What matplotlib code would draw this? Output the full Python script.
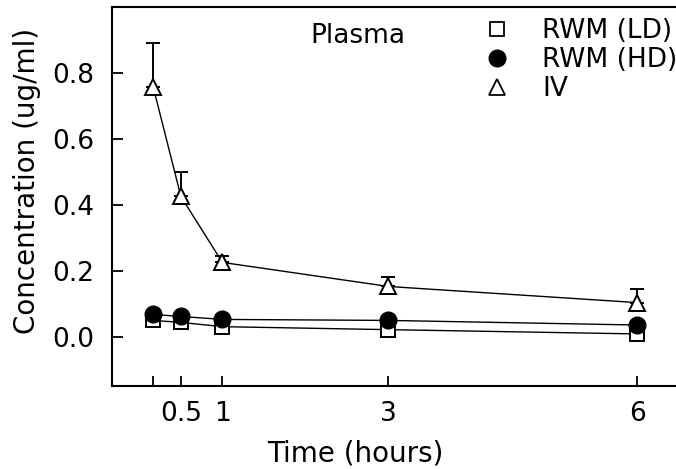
import matplotlib
matplotlib.use("Agg")
import matplotlib.pyplot as plt
from matplotlib.lines import Line2D

# sampling times (hours)
time_h = [1 / 6, 0.5, 1, 3, 6]

# plasma concentration (ug/ml)
rwm_ld = [0.049, 0.043, 0.030, 0.021, 0.008]
rwm_hd = [0.067, 0.061, 0.052, 0.049, 0.035]
iv = [0.757, 0.425, 0.225, 0.152, 0.103]
iv_err = [0.133, 0.075, 0.020, 0.030, 0.040]

xtick_pos = [1 / 6, 0.5, 1, 3, 6]
xtick_lbl = ["", "0.5", "1", "3", "6"]
ytick_pos = [0.0, 0.2, 0.4, 0.6, 0.8]

plt.rcParams["font.family"] = ["DejaVu Sans"]
plt.rcParams["font.size"] = 19

W, H = 676, 469
fig = plt.figure(figsize=(W / 100, H / 100), dpi=100)
ax = fig.add_axes([112 / W, (H - 386) / H, (679 - 112) / W, 379 / H])

# connecting lines
for ys in (rwm_ld, rwm_hd, iv):
    ax.plot(time_h, ys, color="black", lw=1.0, zorder=2)

# upward-only error bars for IV
ax.errorbar(time_h, iv, yerr=[[0] * len(iv), iv_err], fmt="none",
            ecolor="black", elinewidth=1.4, capsize=5, capthick=1.4, zorder=2)

ax.plot(time_h, rwm_ld, ls="none", marker="s", ms=10.5, mfc="white",
        mec="black", mew=1.4, zorder=3)
ax.plot(time_h, rwm_hd, ls="none", marker="o", ms=12, mfc="black",
        mec="black", zorder=4)
ax.plot(time_h, iv, ls="none", marker="^", ms=12, mfc="white",
        mec="black", mew=1.4, zorder=3)

ax.set_xlim(-0.33, 6.5)
ax.set_ylim(-0.15, 1.0)
ax.set_xticks(xtick_pos)
ax.set_xticklabels(xtick_lbl)
ax.set_yticks(ytick_pos)
ax.set_yticklabels([f"{v:.1f}" for v in ytick_pos])

for s in ax.spines.values():
    s.set_linewidth(1.5)
ax.tick_params(axis="x", direction="in", length=7, width=1.3, pad=11)
ax.tick_params(axis="y", direction="in", length=8, width=1.3, pad=13)

ax.set_xlabel("Time (hours)", fontsize=20)
ax.set_ylabel("Concentration (ug/ml)", fontsize=20)
ax.xaxis.set_label_coords(0.43, -0.14)
ax.yaxis.set_label_coords(-0.125, 0.54)

ax.text(358 / W, 1 - 36 / H, "Plasma", transform=fig.transFigure,
        ha="center", va="center")

handles = [
    Line2D([], [], ls="none", marker="s", ms=10, mfc="white", mec="black", mew=1.3),
    Line2D([], [], ls="none", marker="o", ms=12, mfc="black", mec="black"),
    Line2D([], [], ls="none", marker="^", ms=11, mfc="white", mec="black", mew=1.3),
]
fig.legend(handles, ["RWM (LD)", "RWM (HD)", "IV"], frameon=False,
           loc="upper left", bbox_to_anchor=(484 / W, 1 - 18 / H),
           borderpad=0, borderaxespad=0, handlelength=1.0,
           handletextpad=1.2, labelspacing=0.12)

fig.savefig("out.png", dpi=100)
